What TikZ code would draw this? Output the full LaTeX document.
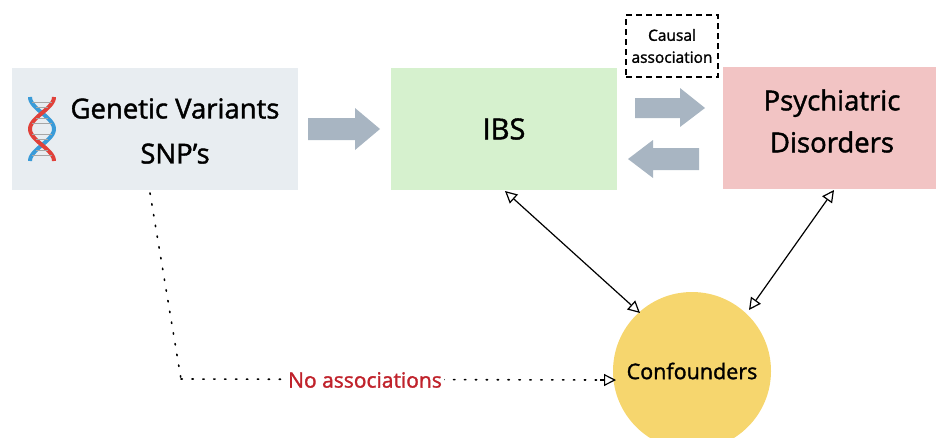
\documentclass[tikz,border=0pt]{standalone}
\usepackage{fontspec}
\setmainfont{Open Sans}[UprightFeatures={FakeBold=1.5}]
\usetikzlibrary{arrows.meta}

\definecolor{snpblue}{HTML}{E8EDF1}
\definecolor{ibsgreen}{HTML}{D6F1CE}
\definecolor{psypink}{HTML}{F2C4C4}
\definecolor{confyellow}{HTML}{F6D66E}
\definecolor{arrowgray}{HTML}{A8B5C2}
\definecolor{noassoc}{HTML}{C0222B}
\definecolor{dnared}{HTML}{E0413A}
\definecolor{dnablue}{HTML}{3A9BD8}

\tikzset{
    factor/.style={minimum width=#1, minimum height=122pt, inner sep=0pt, align=center},
    bigtext/.style={align=center, font=\fontsize{27.5}{43}\selectfont},
    linked/.style={{Triangle[open, length=12pt, width=12pt]}-{Triangle[open, length=12pt, width=12pt]}, line width=1.2pt},
}

\begin{document}
\begin{tikzpicture}[x=1pt, y=-1pt]
    \useasboundingbox (0, 0) rectangle (936, 437);
    % boxes
    \node[factor=286pt, fill=snpblue] (snp) at (155, 129) {};
    \node[bigtext, font=\fontsize{27.5}{45}\selectfont] (snptext) at (175, 131) {Genetic Variants\\SNP's};
    \node[factor=226pt, fill=ibsgreen, font=\fontsize{29}{30}\selectfont] (ibs) at (504, 129) {IBS};
    \node[factor=214pt, fill=psypink] (psy) at (830, 128) {};
    \node[bigtext, font=\fontsize{27.5}{42}\selectfont] (psytext) at (832, 121) {Psychiatric\\Disorders};
    \node[circle, fill=confyellow, minimum size=158pt, inner sep=0pt, font=\fontsize{21.5}{24}\selectfont] (conf) at (692, 371) {Confounders};
    \node[draw, dash pattern=on 6pt off 4pt, line width=1.3pt, minimum width=92pt, minimum height=62pt, align=center, font=\fontsize{15.5}{22}\selectfont] (causal) at (672, 46) {Causal\\association};

    % dna icon
    \draw[dnablue, line width=4pt] plot[domain=0:360, samples=40] ({42 - 12*cos(\x)}, {97 + \x/360*64});
    \draw[dnared, line width=4pt] plot[domain=0:360, samples=40] ({42 + 12*cos(\x)}, {97 + \x/360*64});
    \foreach \t in {30, 60, 120, 150, 210, 240, 300, 330}
        \draw[gray!70, line width=1.5pt] ({42 - 12*cos(\t)}, {97 + \t/360*64}) -- ({42 + 12*cos(\t)}, {97 + \t/360*64});

    % block arrows
    \fill[arrowgray] (308, 118) -- (355, 118) -- (355, 108) -- (380, 129) -- (355, 150) -- (355, 140) -- (308, 140) -- cycle;
    \fill[arrowgray] (635, 98) -- (680, 98) -- (680, 88) -- (705, 108) -- (680, 127) -- (680, 118) -- (635, 118) -- cycle;
    \fill[arrowgray] (699, 148) -- (653, 148) -- (653, 140) -- (628, 159) -- (653, 178) -- (653, 170) -- (699, 170) -- cycle;

    % links to confounders
    \draw[linked] (505, 191) -- (640, 313);
    \draw[linked] (834, 190) -- (749, 310);

    % no association path
    \coordinate (corner) at (181, 379);
    \draw[line width=1.6pt, dash pattern=on 1.4pt off 9.5pt, line cap=round] (150, 193) -- (corner);
    \draw[line width=1.6pt, dash pattern=on 1.4pt off 9.5pt, line cap=round] (corner) -- (602, 380);
    \draw[-{Triangle[open, length=12pt, width=12pt]}, line width=1.2pt] (600, 380) -- (616, 380);
    \node[fill=white, inner sep=2pt, text=noassoc, font=\fontsize{21}{24}\selectfont] (noassoc) at (365, 380) {No associations};
\end{tikzpicture}
\end{document}
